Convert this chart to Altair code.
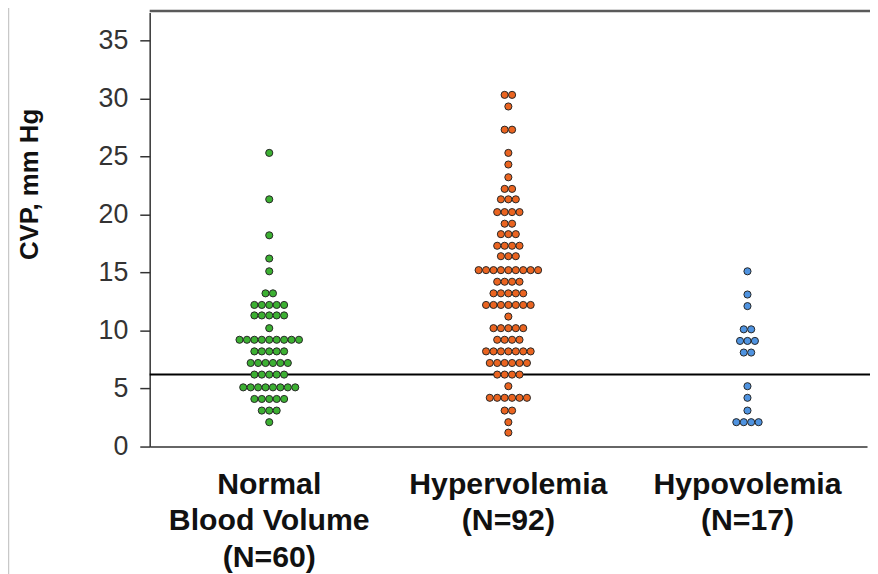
import altair as alt
import pandas as pd

# ---- data ----
groups = ["Normal|Blood Volume|(N=60)", "Hypervolemia|(N=92)", "Hypovolemia|(N=17)"]
colors = ["#3cb032", "#ea6420", "#4f93e0"]

normal_cvp = [25.3, 21.3, 18.2, 16.2, 15.1, 13.2, 12.2, 11.3, 10.2, 9.2, 8.2, 7.2, 6.2, 5.1, 4.1, 3.1, 2.1]
normal_n = [1, 1, 1, 1, 1, 2, 5, 5, 1, 9, 5, 6, 5, 8, 5, 3, 1]

hyper_cvp = [30.3, 29.3, 27.3, 25.3, 24.3, 23.2, 22.2, 21.3, 20.2, 19.2, 18.3, 17.3, 16.4,
             15.2, 14.2, 13.2, 12.2, 11.2, 10.2, 9.2, 8.2, 7.2, 6.2, 5.2, 4.2, 3.1, 2.1, 1.2]
hyper_n = [2, 1, 2, 1, 1, 1, 2, 3, 4, 2, 3, 4, 3, 9, 4, 5, 7, 1, 5, 4, 7, 6, 4, 1, 6, 2, 1, 1]

hypo_cvp = [15.1, 13.1, 12.1, 10.1, 9.1, 8.1, 5.2, 4.2, 3.1, 2.1]
hypo_n = [1, 1, 1, 2, 3, 2, 1, 1, 1, 4]

threshold = [6.2]
y_ticks = [0, 5, 10, 15, 20, 25, 30, 35]

# ---- build point table (stack equal values side by side) ----
rows = []
for g, vals, counts in zip(groups, [normal_cvp, hyper_cvp, hypo_cvp], [normal_n, hyper_n, hypo_n]):
    for v, n in zip(vals, counts):
        for i in range(n):
            rows.append({"group": g, "cvp": v, "slot": i - (n - 1) / 2})
df = pd.DataFrame(rows)

W, H = 724, 438
DOT = 7.5
half = (W / 3) / 2 / DOT

points = alt.Chart(df).mark_circle(size=52, opacity=1, stroke="#262626", strokeWidth=1).encode(
    x=alt.X("group:N", sort=groups,
            scale=alt.Scale(paddingInner=0, paddingOuter=0),
            axis=alt.Axis(title=None, labelExpr="split(datum.label, '|')", labelAngle=0,
                          labelFont="Liberation Sans", labelFontSize=30.5, labelFontWeight="bold",
                          labelColor="#111", labelLineHeight=37, labelPadding=23, labelLimit=0,
                          ticks=False, tickSize=0, domainColor="#333", domainWidth=1.5)),
    xOffset=alt.XOffset("slot:Q", scale=alt.Scale(domain=[-half, half])),
    y=alt.Y("cvp:Q", scale=alt.Scale(domain=[0, 37.39], nice=False, zero=True),
            axis=alt.Axis(values=y_ticks, title="CVP, mm Hg", grid=False,
                          tickSize=10, tickColor="#333", tickWidth=1.5,
                          domainColor="#333", domainWidth=1.5,
                          labelFont="Liberation Sans", labelFontSize=27, labelColor="#333",
                          labelPadding=12,
                          titleFont="Liberation Sans", titleFontSize=26, titleFontWeight="bold",
                          titleColor="#111", titleAngle=-90, titleX=-121, titleY=173,
                          titleAlign="center", titleBaseline="middle")),
    color=alt.Color("group:N", scale=alt.Scale(domain=groups, range=colors), legend=None),
)

ref = alt.Chart(pd.DataFrame({"cvp": threshold})).mark_rule(color="#000", strokeWidth=2).encode(
    y=alt.Y("cvp:Q"),
    x=alt.value(0),
    x2=alt.value(W + 3),
)

frame = pd.DataFrame({"k": [0]})
top_border = alt.Chart(frame).mark_rule(color="#5a5a5a", strokeWidth=2.5).encode(
    x=alt.value(0), x2=alt.value(W + 3), y=alt.value(-1.5)
)
left_frame = alt.Chart(frame).mark_rule(color="#c8c8c8", strokeWidth=1.5).encode(
    x=alt.value(-142.5), y=alt.value(-10), y2=alt.value(H + 140)
)

chart = alt.layer(ref, points, top_border, left_frame).properties(
    width=W, height=H,
    background="white",
    autosize=alt.AutoSizeParams(type="none"),
    padding={"left": 143, "top": 2, "right": 3, "bottom": 126},
).configure_view(stroke=None)

chart.save("out.html", embed_options={"renderer": "svg", "actions": False})
